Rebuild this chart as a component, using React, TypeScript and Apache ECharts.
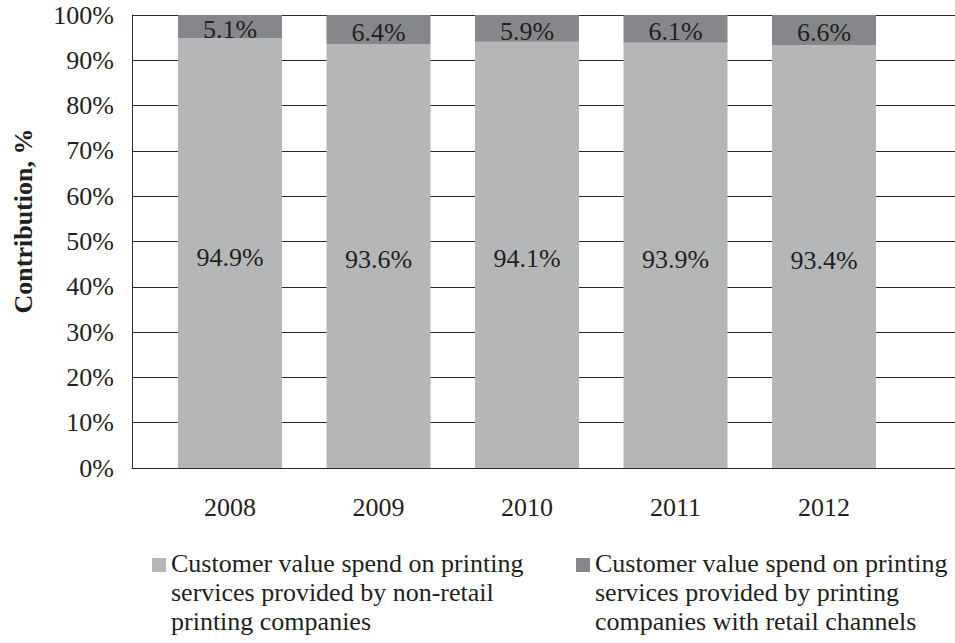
import React, { useEffect, useRef } from "react";
import * as echarts from "echarts";

const years = ["2008", "2009", "2010", "2011", "2012"];
const nonRetail = [94.9, 93.6, 94.1, 93.9, 93.4];
const retail = [5.1, 6.4, 5.9, 6.1, 6.6];
const seriesNames = [
  "Customer value spend on printing\nservices provided by non-retail\nprinting companies",
  "Customer value spend on printing\nservices provided by printing\ncompanies with retail channels",
];
const yTitle = "Contribution, %";

const FONT = "'Liberation Serif', 'Times New Roman', serif";
const TEXT = "#231f20";
const LINE = "#2a2a2a";
const LIGHT = "#b5b6b8";
const DARK = "#86878b";

const ICON = "path://M0,9h14v14h-14z M0,0h0.01v0.01h-0.01z M0,87h0.01v0.01h-0.01z";

export default function App() {
  const ref = useRef<HTMLDivElement>(null);
  useEffect(() => {
    if (!ref.current) return;
    const chart = echarts.init(ref.current, null, { renderer: "svg" });
    const legendCommon = {
      orient: "horizontal",
      padding: 0,
      itemWidth: 14,
      itemHeight: 87,
      icon: ICON,
      selectedMode: false,
      textStyle: { fontFamily: FONT, fontSize: 26, color: TEXT, lineHeight: 29 },
    };
    chart.setOption({
      animation: false,
      backgroundColor: "#ffffff",
      textStyle: { fontFamily: FONT },
      grid: [
        { left: 132, right: 0, top: 15, bottom: 175 },
        { left: 155.75, width: 742.5, top: 15, bottom: 175 },
      ],
      xAxis: [
        {
          gridIndex: 0,
          type: "value",
          min: 0,
          max: 1,
          axisLine: { show: true, lineStyle: { color: LINE, width: 1 } },
          axisTick: { show: false },
          axisLabel: { show: false },
          splitLine: { show: false },
        },
        {
          gridIndex: 1,
          type: "category",
          data: years,
          axisLine: { show: false },
          axisTick: { show: false },
          axisLabel: { fontFamily: FONT, fontSize: 26, color: TEXT, margin: 26 },
          splitLine: { show: false },
        },
      ],
      yAxis: [
        {
          gridIndex: 0,
          type: "value",
          min: 0,
          max: 100,
          interval: 10,
          axisLine: { show: true, lineStyle: { color: LINE, width: 1 } },
          axisTick: { show: false },
          axisLabel: {
            formatter: "{value}%",
            fontFamily: FONT,
            fontSize: 26,
            color: TEXT,
            margin: 18,
            padding: [12, 0, 0, 0],
          },
          splitLine: { show: true, lineStyle: { color: LINE, width: 1 } },
        },
        {
          gridIndex: 1,
          type: "value",
          min: 0,
          max: 100,
          show: false,
          splitLine: { show: false },
        },
      ],
      legend: [
        { ...legendCommon, left: 152, top: 549, data: [seriesNames[0]] },
        { ...legendCommon, left: 576, top: 549, data: [seriesNames[1]] },
      ],
      graphic: [
        {
          type: "text",
          x: 23,
          y: 221,
          rotation: Math.PI / 2,
          style: {
            text: yTitle,
            fontFamily: FONT,
            fontSize: 26,
            fontWeight: "bold",
            fill: TEXT,
            textAlign: "center",
            textVerticalAlign: "middle",
          },
        },
      ],
      series: [
        {
          name: seriesNames[0],
          type: "bar",
          stack: "total",
          xAxisIndex: 1,
          yAxisIndex: 1,
          barWidth: 104,
          data: nonRetail,
          itemStyle: { color: LIGHT },
          label: {
            show: true,
            position: "inside",
            formatter: (p: any) => p.value.toFixed(1) + "%",
            fontFamily: FONT,
            fontSize: 26,
            color: TEXT,
            offset: [0, 4],
          },
        },
        {
          name: seriesNames[1],
          type: "bar",
          stack: "total",
          xAxisIndex: 1,
          yAxisIndex: 1,
          barWidth: 104,
          data: retail,
          itemStyle: { color: DARK },
          label: {
            show: true,
            position: "inside",
            formatter: (p: any) => p.value.toFixed(1) + "%",
            fontFamily: FONT,
            fontSize: 26,
            color: TEXT,
            offset: [0, 3],
          },
        },
      ],
    });
    return () => chart.dispose();
  }, []);
  return (
    <div
      ref={ref}
      style={{ position: "absolute", left: 0, top: 0, width: 955, height: 643 }}
    />
  );
}
